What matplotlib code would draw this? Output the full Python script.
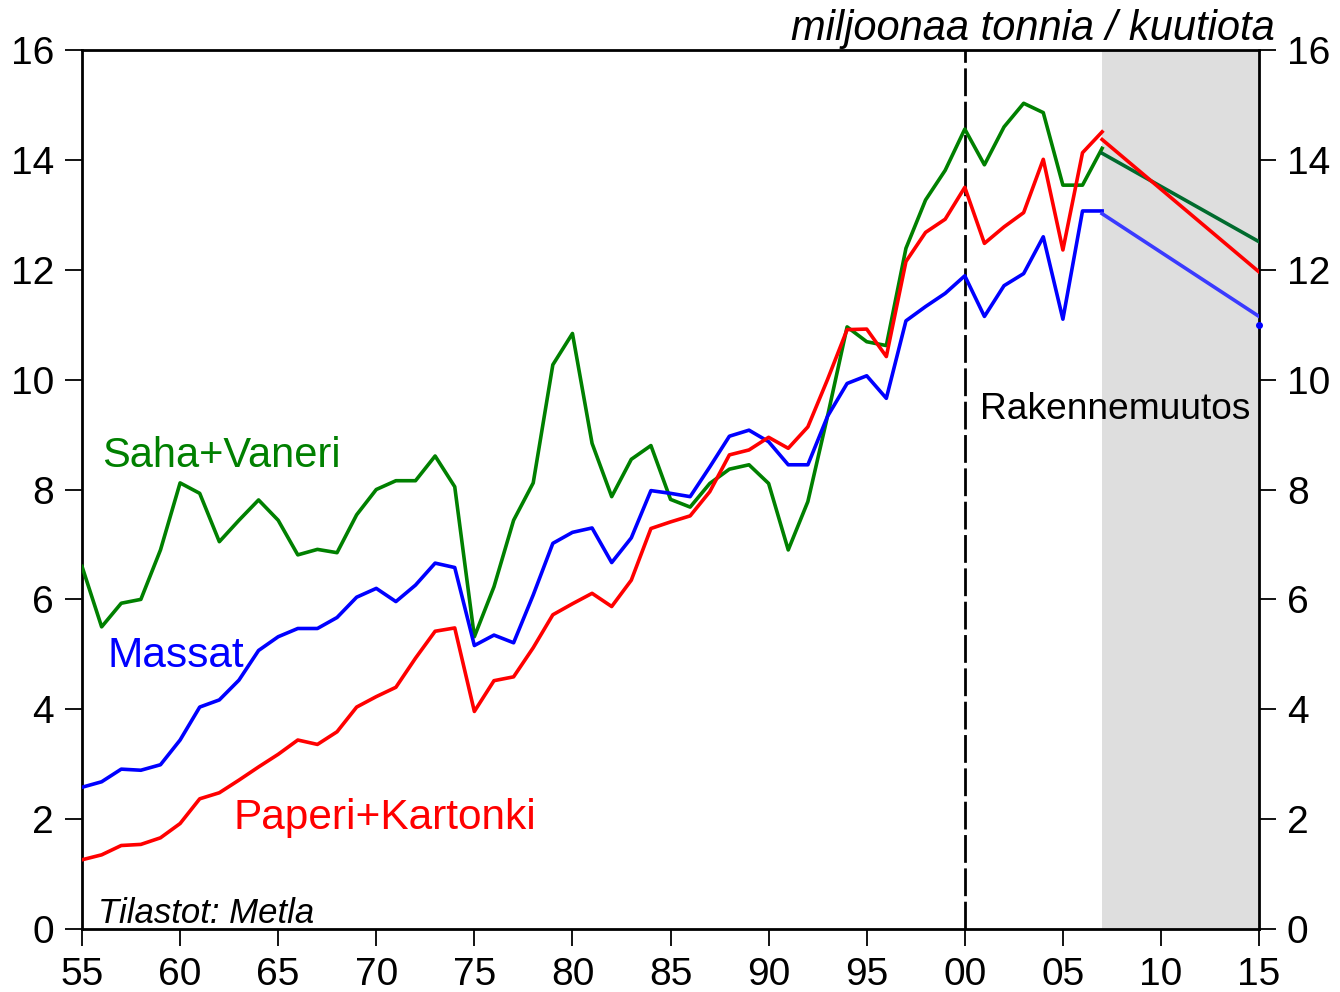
import numpy as np
import matplotlib.pyplot as plt

plt.rcParams['font.family'] = ['Liberation Sans', 'DejaVu Sans']

# Vuodet 1955-2007
years = np.arange(1955, 2008)

saha_vaneri = [6.6, 5.5, 5.93, 6.0, 6.9, 8.12, 7.93, 7.05, 7.44, 7.81,
               7.44, 6.81, 6.91, 6.85, 7.54, 8.0, 8.16, 8.16, 8.61, 8.05,
               5.32, 6.23, 7.44, 8.12, 10.27, 10.84, 8.84, 7.87, 8.55, 8.8,
               7.82, 7.68, 8.11, 8.37, 8.45, 8.11, 6.9, 7.78, 9.33, 10.96,
               10.69, 10.62, 12.39, 13.27, 13.81, 14.56, 13.91, 14.6, 15.03, 14.86,
               13.54, 13.54, 14.21]

massat = [2.58, 2.68, 2.91, 2.89, 2.99, 3.44, 4.04, 4.17, 4.53, 5.07,
          5.32, 5.47, 5.47, 5.67, 6.04, 6.2, 5.96, 6.26, 6.66, 6.58,
          5.16, 5.35, 5.21, 6.08, 7.02, 7.22, 7.3, 6.67, 7.12, 7.98,
          7.93, 7.87, 8.41, 8.97, 9.08, 8.87, 8.45, 8.45, 9.33, 9.93,
          10.07, 9.66, 11.07, 11.33, 11.57, 11.89, 11.15, 11.71, 11.93, 12.6,
          11.1, 13.07, 13.07]

paperi_kartonki = [1.26, 1.35, 1.52, 1.54, 1.66, 1.92, 2.37, 2.48, 2.71, 2.95,
                   3.18, 3.44, 3.36, 3.59, 4.04, 4.23, 4.4, 4.93, 5.42, 5.48,
                   3.96, 4.52, 4.59, 5.12, 5.72, 5.92, 6.11, 5.87, 6.35, 7.29,
                   7.41, 7.52, 7.96, 8.63, 8.72, 8.95, 8.75, 9.14, 10.0, 10.91,
                   10.92, 10.42, 12.15, 12.68, 12.92, 13.5, 12.48, 12.78, 13.04, 14.01,
                   12.36, 14.13, 14.51]

# Ennusteet 2007 -> 2015
fc_years = [2007, 2015]
fc_saha = [14.12, 12.51]
fc_massat = [13.02, 11.15]
fc_paperi = [14.37, 11.96]
massat_2015_point = 11.0

fig = plt.figure(figsize=(13.4, 9.92), dpi=100)
ax = fig.add_axes([0.0612, 0.0635, 0.8784, 0.8861])

ax.axvspan(2007, 2015, color='#dedede', zorder=0, lw=0)
ax.axvline(2000, color='black', lw=2, ls=(0, (10, 2)), zorder=1)

lw = 2.6
ax.plot(years, saha_vaneri, color='#008000', lw=lw, zorder=3)
ax.plot(years, massat, color='#0000ff', lw=lw, zorder=3)
ax.plot(years, paperi_kartonki, color='#ff0000', lw=lw, zorder=3)

ax.plot(fc_years, fc_saha, color='#006b2e', lw=lw, zorder=3)
ax.plot(fc_years, fc_paperi, color='#ff0000', lw=lw, zorder=3)
ax.plot(fc_years, fc_massat, color='#3a3aff', lw=lw, zorder=3)
ax.plot([2015], [massat_2015_point], 'o', color='#0000ff', ms=4, zorder=3, clip_on=False)

ax.set_xlim(1955, 2015)
ax.set_ylim(0, 16)
ax.set_xticks(np.arange(1955, 2016, 5))
ax.set_xticklabels(['55', '60', '65', '70', '75', '80', '85', '90', '95', '00', '05', '10', '15'])
ax.set_yticks(np.arange(0, 17, 2))

ax.tick_params(axis='both', labelsize=28, width=1.3, length=12, direction='out')
ax.tick_params(axis='y', right=True, labelright=True, pad=8)
ax.tick_params(axis='x', pad=8)
for s in ax.spines.values():
    s.set_linewidth(2)

ax.text(1956.0, 8.41, 'Saha+Vaneri', color='#008000', fontsize=30, va='baseline')
ax.text(1956.3, 4.77, 'Massat', color='#0000ff', fontsize=30.5, va='baseline')
ax.text(1962.7, 1.82, 'Paperi+Kartonki', color='#ff0000', fontsize=30.5, va='baseline')
ax.text(2000.8, 9.28, 'Rakennemuutos', color='black', fontsize=26.7, va='baseline')
ax.text(1955.8, 0.11, 'Tilastot: Metla', fontsize=25, style='italic', va='baseline')
ax.text(2015.8, 16.18, 'miljoonaa tonnia / kuutiota', fontsize=30, style='italic',
        ha='right', va='baseline', clip_on=False)

fig.savefig('out.png', dpi=100)
